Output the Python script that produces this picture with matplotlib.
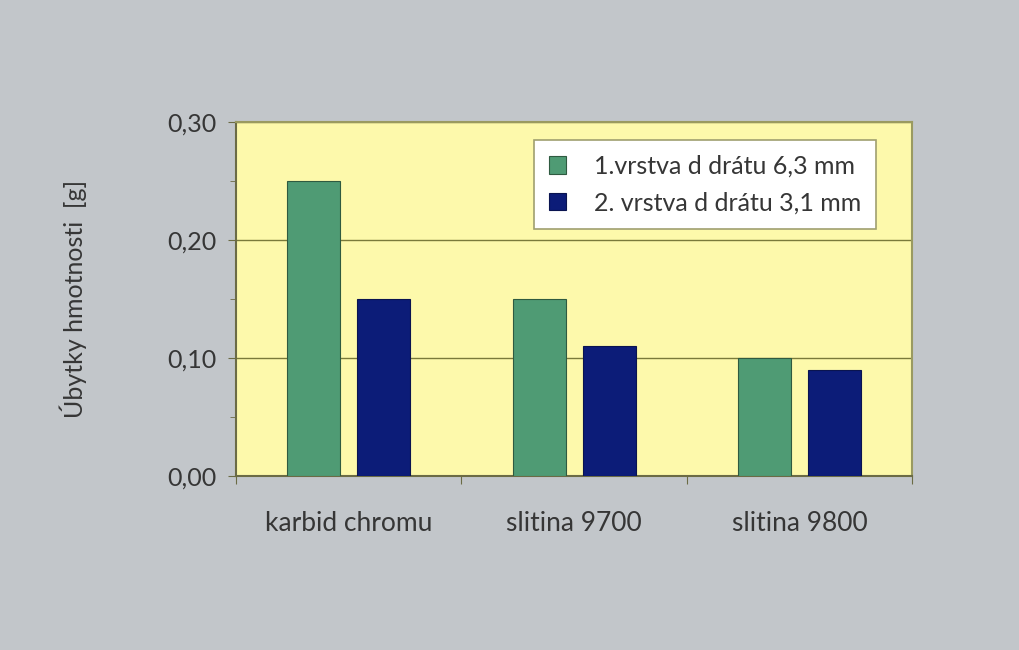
import numpy as np
import matplotlib.pyplot as plt
from matplotlib.ticker import FixedLocator

plt.rcParams['font.family'] = ['Lato', 'DejaVu Sans']

categories = ['karbid chromu', 'slitina 9700', 'slitina 9800']
vrstva1 = [0.25, 0.15, 0.10]
vrstva2 = [0.15, 0.11, 0.09]
labels = ['1.vrstva d drátu 6,3 mm', '2. vrstva d drátu 3,1 mm']

bg = '#c2c6ca'
txt = '#363636'
fig = plt.figure(figsize=(10.2, 6.5), dpi=100, facecolor=bg)
ax = fig.add_axes([0.2314, 0.2677, 0.663, 0.5446])
ax.set_facecolor('#fdf9ab')

x = np.arange(len(categories))
w = 0.235
ax.bar(x - 0.155, vrstva1, w, color='#4f9b74', edgecolor='#2f5a40', linewidth=0.8, label=labels[0], zorder=3)
ax.bar(x + 0.155, vrstva2, w, color='#0c1c78', edgecolor='#0a1450', linewidth=0.8, label=labels[1], zorder=3)

ax.set_xlim(-0.5, 2.5)
ax.set_ylim(0, 0.30)
ax.set_yticks([0, 0.10, 0.20, 0.30])
ax.set_yticklabels(['0,00', '0,10', '0,20', '0,30'], fontsize=18, color=txt)
ax.yaxis.set_minor_locator(FixedLocator([0.05, 0.15, 0.25]))
ax.yaxis.grid(True, color='#7a7a3a', linewidth=1.0, zorder=0)

ax.set_xticks([-0.5, 0.5, 1.5, 2.5])
ax.set_xticklabels([])
ax.set_xticks(x, minor=True)
ax.set_xticklabels(categories, minor=True, fontsize=19, color=txt)
ax.tick_params(axis='x', which='minor', length=0, pad=25)
ax.tick_params(axis='y', which='major', pad=8)
ax.tick_params(axis='both', which='major', direction='out', length=6, color='#6b6b45')
ax.tick_params(axis='y', which='minor', direction='out', length=4, color='#6b6b45')

for s in ['left', 'bottom']:
    ax.spines[s].set_color('#6b6b45')
    ax.spines[s].set_linewidth(1.5)
for s in ['top', 'right']:
    ax.spines[s].set_color('#9a9a60')
    ax.spines[s].set_linewidth(1.5)

ax.set_ylabel('Úbytky hmotnosti  [g]', fontsize=18, color=txt, labelpad=58)

leg = ax.legend(loc='upper right', bbox_to_anchor=(0.946, 0.95), fontsize=18,
                frameon=True, fancybox=False, handlelength=0.7, handleheight=0.7,
                labelspacing=0.55, borderpad=0.6, handletextpad=1.1, borderaxespad=0)
leg.get_frame().set_edgecolor('#a0a070')
leg.get_frame().set_linewidth(1.2)
leg.get_frame().set_alpha(1)
for t in leg.get_texts():
    t.set_color(txt)

plt.savefig('out.png', dpi=100, facecolor=bg)
